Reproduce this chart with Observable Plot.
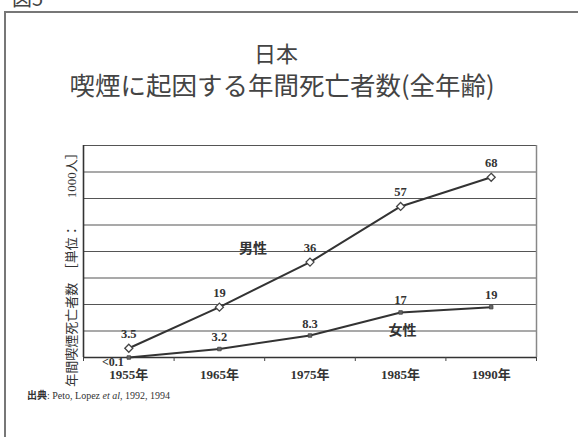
<!DOCTYPE html>
<html>
<head>
<meta charset="utf-8">
<script src="https://cdn.jsdelivr.net/npm/d3@7"></script>
<script src="https://cdn.jsdelivr.net/npm/@observablehq/plot@0.6"></script>
<style>
  body { margin: 0; background: #fff; }
  #page { position: relative; width: 578px; height: 437px; overflow: hidden; background: #fff; }
  .fig { position: absolute; left: 12px; top: -12px; font: 20px/20px "Noto Sans CJK JP", sans-serif; color: #444; }
  .frame { position: absolute; left: 4px; top: 11px; width: 640px; height: 520px; border: 2px solid #777; }
  .title { position: absolute; left: 0; top: 39px; width: 564px; text-align: center; font-family: "Noto Sans CJK JP", sans-serif; color: #444; }
  .t1 { font-size: 22px; line-height: 26px; position: relative; left: -6px; }
  .t2 { font-size: 25.5px; line-height: 26px; margin-top: 6px; }
  #chart { position: absolute; left: 0; top: 120px; }
  .caption { position: absolute; left: 27px; top: 388px; font: 10px/14px "Liberation Serif", "Noto Sans CJK JP", serif; color: #333; }
  .caption b { font-family: "Noto Sans CJK JP", sans-serif; font-weight: 700; }
</style>
</head>
<body>
<div id="page">
  <div class="fig">図5</div>
  <div class="frame"></div>
  <div class="title">
    <div class="t1">日本</div>
    <div class="t2">喫煙に起因する年間死亡者数(全年齢)</div>
  </div>
  <div id="chart"></div>
  <div class="caption"><b>出典</b>: Peto, Lopez <i>et al</i>, 1992, 1994</div>
</div>
<script>
// ---- data ----
const years = ["1955年", "1965年", "1975年", "1985年", "1990年"];
const male = [3.5, 19, 36, 57, 68];
const female = [0, 3.2, 8.3, 17, 19];
const maleLabels = ["3.5", "19", "36", "57", "68"];
const femaleLabels = ["<0.1", "3.2", "8.3", "17", "19"];
const gridValues = [10, 20, 30, 40, 50, 60, 70, 80];
const yMax = 80;
const yLabel = "年間喫煙死亡者数　［単位：　　1000人］";
const seriesNames = ["男性", "女性"];

const rows = years.map((year, i) => ({
  year, i, pos: i + 0.5,
  male: male[i], female: female[i],
  maleLabel: maleLabels[i], femaleLabel: femaleLabels[i]
}));

const numFont = "'Liberation Serif', 'Noto Sans CJK JP', serif";

const chart = Plot.plot({
  width: 578,
  height: 275,
  marginTop: 25,
  marginBottom: 38,
  marginLeft: 83,
  marginRight: 42,
  x: { type: "linear", domain: [0, years.length], axis: null },
  y: { domain: [0, yMax], axis: null },
  style: { fontFamily: numFont, background: "transparent", overflow: "visible", color: "#333" },
  marks: [
    Plot.ruleY(gridValues, { stroke: "#555", strokeWidth: 1.2 }),
    Plot.ruleX([years.length], { stroke: "#888", strokeWidth: 1.5 }),
    Plot.ruleY([0], { stroke: "#333", strokeWidth: 1.6 }),
    Plot.ruleX([0], { stroke: "#333", strokeWidth: 1.6 }),
    Plot.axisX({ ticks: d3.range(years.length + 1), tickSize: 4, tickFormat: () => "", label: null, stroke: "#444" }),
    Plot.text(rows, { x: "pos", frameAnchor: "bottom", dy: 21, text: "year", fontSize: 13, fontWeight: "bold", fill: "#333" }),
    Plot.text([yLabel], { frameAnchor: "left", textAnchor: "middle", dx: -12, dy: 15, rotate: -90, fontSize: 13, fill: "#333" }),
    Plot.lineY(rows, { x: "pos", y: "male", stroke: "#333", strokeWidth: 2 }),
    Plot.lineY(rows, { x: "pos", y: "female", stroke: "#333", strokeWidth: 2 }),
    Plot.dot(rows, { x: "pos", y: "male", symbol: "diamond2", r: 3.6, fill: "white", stroke: "#444", strokeWidth: 1.3 }),
    Plot.dot(rows, { x: "pos", y: "female", symbol: "square", r: 2, fill: "#666", stroke: "#444", strokeWidth: 0.8 }),
    Plot.text(rows, { x: "pos", y: "male", text: "maleLabel", dy: -14, fontSize: 12.5, fontWeight: "bold", fill: "#333" }),
    Plot.text(rows.filter(d => d.i > 0), { x: "pos", y: "female", text: "femaleLabel", dy: -12, fontSize: 12.5, fontWeight: "bold", fill: "#333" }),
    Plot.text(rows.filter(d => d.i === 0), { x: "pos", y: "female", text: "femaleLabel", dx: -16, dy: 5, fontSize: 12, fontWeight: "bold", fill: "#333" }),
    Plot.text([{ name: seriesNames[0], pos: 1.87, v: 41 }], { x: "pos", y: "v", text: "name", fontSize: 14, fontWeight: "bold", fontFamily: "'Noto Sans CJK JP', sans-serif", fill: "#333" }),
    Plot.text([{ name: seriesNames[1], pos: 3.52, v: 10 }], { x: "pos", y: "v", text: "name", fontSize: 14, fontWeight: "bold", fontFamily: "'Noto Sans CJK JP', sans-serif", fill: "#333" })
  ]
});
document.getElementById("chart").appendChild(chart);
</script>
</body>
</html>
